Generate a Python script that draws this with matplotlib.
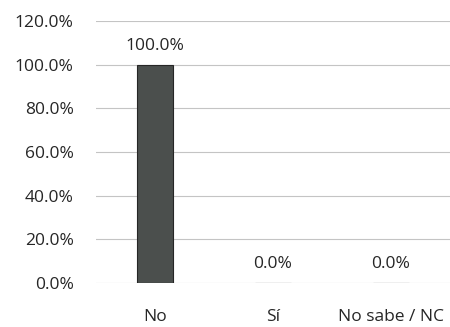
import matplotlib
matplotlib.use("Agg")
import matplotlib.pyplot as plt
from matplotlib.ticker import FuncFormatter

categories = ["No", "Sí", "No sabe / NC"]
values = [100.0, 0.0, 0.0]
y_ticks = [0, 20, 40, 60, 80, 100, 120]

plt.rcParams["font.family"] = ["Open Sans", "DejaVu Sans"]

fig = plt.figure(figsize=(4.5, 3.27), dpi=100)
ax = fig.add_axes([0.213, 0.135, 0.787, 0.801])

x = range(len(categories))
bars = ax.bar(x, values, width=0.31, color="#4b4f4d", edgecolor="#262626",
              linewidth=0.8, zorder=3)

# value labels above bars
for bar, v in zip(bars, values):
    ax.text(bar.get_x() + bar.get_width() / 2, v + 5, f"{v:.1f}%",
            ha="center", va="bottom", fontsize=12.5, color="#262626")

ax.set_xlim(-0.5, len(categories) - 0.5)
ax.set_ylim(0, 120)
ax.set_yticks(y_ticks)
ax.yaxis.set_major_formatter(FuncFormatter(lambda v, p: f"{v:.1f}%"))
ax.set_xticks(list(x))
ax.set_xticklabels(categories)
ax.tick_params(axis="both", length=0, labelsize=12.5, colors="#262626")
ax.tick_params(axis="x", pad=19)
ax.tick_params(axis="y", pad=16)

ax.grid(axis="y", color="#c4c4c4", linewidth=0.8, zorder=0)
for s in ax.spines.values():
    s.set_visible(False)

fig.savefig("out.png", dpi=100, facecolor="white")
